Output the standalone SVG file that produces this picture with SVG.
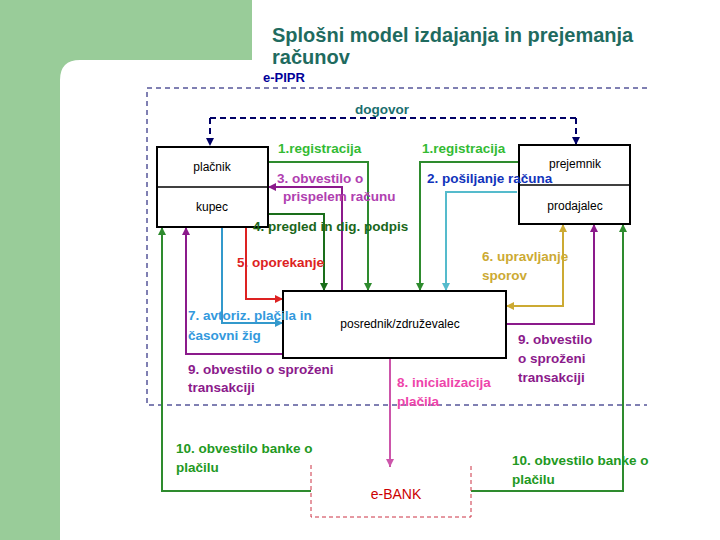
<svg xmlns="http://www.w3.org/2000/svg" width="720" height="540" viewBox="0 0 720 540">
<defs>
<style>
.box{fill:#fff;stroke:#000;stroke-width:2}
.bt{font-family:"Liberation Sans",Arial,sans-serif;font-size:12px;fill:#000;text-anchor:middle}
.lb{font-family:"Liberation Sans",Arial,sans-serif;font-size:13.5px;font-weight:bold}
.c{fill:none;stroke-width:2}
</style>
<marker id="aG" viewBox="0 0 8 8" refX="8" refY="4" markerWidth="8" markerHeight="8" markerUnits="userSpaceOnUse" orient="auto"><path d="M0,0L8,4L0,8z" fill="#2e8b2e"/></marker>
<marker id="aD" viewBox="0 0 8 8" refX="8" refY="4" markerWidth="8" markerHeight="8" markerUnits="userSpaceOnUse" orient="auto"><path d="M0,0L8,4L0,8z" fill="#1a6e1a"/></marker>
<marker id="aC" viewBox="0 0 8 8" refX="8" refY="4" markerWidth="8" markerHeight="8" markerUnits="userSpaceOnUse" orient="auto"><path d="M0,0L8,4L0,8z" fill="#55bbcc"/></marker>
<marker id="aP" viewBox="0 0 8 8" refX="8" refY="4" markerWidth="8" markerHeight="8" markerUnits="userSpaceOnUse" orient="auto"><path d="M0,0L8,4L0,8z" fill="#8b1a8b"/></marker>
<marker id="aR" viewBox="0 0 8 8" refX="8" refY="4" markerWidth="8" markerHeight="8" markerUnits="userSpaceOnUse" orient="auto"><path d="M0,0L8,4L0,8z" fill="#dd2222"/></marker>
<marker id="aB" viewBox="0 0 8 8" refX="8" refY="4" markerWidth="8" markerHeight="8" markerUnits="userSpaceOnUse" orient="auto"><path d="M0,0L8,4L0,8z" fill="#3399cc"/></marker>
<marker id="aY" viewBox="0 0 8 8" refX="8" refY="4" markerWidth="8" markerHeight="8" markerUnits="userSpaceOnUse" orient="auto-start-reverse"><path d="M0,0L8,4L0,8z" fill="#ccaa33"/></marker>
<marker id="aK" viewBox="0 0 8 8" refX="8" refY="4" markerWidth="8" markerHeight="8" markerUnits="userSpaceOnUse" orient="auto"><path d="M0,0L8,4L0,8z" fill="#cc55aa"/></marker>
<marker id="aN" viewBox="0 0 8 8" refX="8" refY="4" markerWidth="8" markerHeight="8" markerUnits="userSpaceOnUse" orient="auto"><path d="M0,0L8,4L0,8z" fill="#000066"/></marker>
</defs>

<g id="background">
<rect x="0" y="0" width="720" height="540" fill="#99cc99"/>
<path d="M252,0H720V540H60V80Q60,60 80,60H252z" fill="#fff"/>
</g>

<g id="title">
<text x="272" y="42" font-family="'Liberation Sans',Arial,sans-serif" font-size="20" font-weight="bold" fill="#1f6b5f">Splošni model izdajanja in prejemanja</text>
<text x="272" y="64" font-family="'Liberation Sans',Arial,sans-serif" font-size="20" font-weight="bold" fill="#1f6b5f">računov</text>
</g>

<g id="e-pipr">
<text x="263" y="82" font-family="'Liberation Sans',Arial,sans-serif" font-size="13" font-weight="bold" fill="#000099">e-PIPR</text>
<path d="M647,88H147V405H647" fill="none" stroke="#000066" stroke-width="1" stroke-dasharray="5,4"/>
</g>

<g id="connectors">
<path class="c" d="M210,118H576" stroke="#000066" stroke-dasharray="6,4"/>
<path class="c" d="M210,118V146" stroke="#000066" stroke-dasharray="6,4" marker-end="url(#aN)"/>
<path class="c" d="M576,118V145" stroke="#000066" stroke-dasharray="6,4" marker-end="url(#aN)"/>
<path class="c" d="M268,162H368V291" stroke="#2e8b2e" marker-end="url(#aG)"/>
<path class="c" d="M519,162H420V291" stroke="#2e8b2e" marker-end="url(#aG)"/>
<path class="c" d="M517,192H446V291" stroke="#55bbcc" marker-end="url(#aC)"/>
<path class="c" d="M342,291V187H268" stroke="#8b1a8b" marker-end="url(#aP)"/>
<path class="c" d="M268,214H324V291" stroke="#1a6e1a" marker-end="url(#aD)"/>
<path class="c" d="M246,227V299H283" stroke="#dd2222" marker-end="url(#aR)"/>
<path class="c" d="M222,227V323H283" stroke="#3399cc" marker-end="url(#aB)"/>
<path class="c" d="M283,354H186V227" stroke="#8b1a8b" marker-end="url(#aP)"/>
<path class="c" d="M311,491H162V227" stroke="#2e8b2e" marker-end="url(#aG)"/>
<path class="c" d="M390,358V467" stroke="#cc55aa" marker-end="url(#aK)"/>
<path class="c" d="M506,306H563V224" stroke="#ccaa33" marker-start="url(#aY)" marker-end="url(#aY)"/>
<path class="c" d="M506,324H594V224" stroke="#8b1a8b" marker-end="url(#aP)"/>
<path class="c" d="M471,491H623V224" stroke="#2e8b2e" stroke-width="2.5" marker-end="url(#aG)"/>
</g>

<g id="placnik">
<rect class="box" x="157" y="147" width="111" height="80"/>
<line x1="157" y1="187" x2="268" y2="187" stroke="#000" stroke-width="1.5"/>
<text class="bt" x="212" y="171">plačnik</text>
<text class="bt" x="212" y="211">kupec</text>
</g>

<g id="prejemnik">
<rect class="box" x="519" y="145" width="111" height="79"/>
<line x1="519" y1="185" x2="630" y2="185" stroke="#000" stroke-width="1.5"/>
<text class="bt" x="575" y="168">prejemnik</text>
<text class="bt" x="575" y="210">prodajalec</text>
</g>

<g id="posrednik">
<rect class="box" x="283" y="291" width="223" height="67"/>
<text class="bt" x="400" y="328">posrednik/združevalec</text>
</g>

<g id="ebank">
<path d="M311,465V517H471V463" fill="none" stroke="#cc3344" stroke-width="1" stroke-dasharray="4,3"/>
<text x="396" y="499" font-family="'Liberation Sans',Arial,sans-serif" font-size="14" fill="#cc0000" text-anchor="middle">e-BANK</text>
</g>

<g id="labels">
<text class="lb" x="355" y="114" fill="#1a6e6e">dogovor</text>
<text class="lb" x="278" y="153" fill="#33bb33">1.registracija</text>
<text class="lb" x="422" y="153" fill="#33bb33">1.registracija</text>
<text class="lb" x="277" y="183" fill="#b040b0">3. obvestilo o</text>
<text class="lb" x="283" y="201" fill="#b040b0">prispelem računu</text>
<text class="lb" x="427" y="183" fill="#1133bb">2. pošiljanje računa</text>
<text class="lb" x="253" y="231" fill="#1a661a">4. pregled in dig. podpis</text>
<text class="lb" x="237" y="267" fill="#dd2222">5. oporekanje</text>
<text class="lb" x="482" y="261" fill="#ccaa33">6. upravljanje</text>
<text class="lb" x="482" y="280" fill="#ccaa33">sporov</text>
<text class="lb" x="188" y="320" fill="#3399dd">7. avtoriz. plačila in</text>
<text class="lb" x="188" y="340" fill="#3399dd">časovni žig</text>
<text class="lb" x="188" y="374" fill="#8b1a8b">9. obvestilo o sproženi</text>
<text class="lb" x="188" y="392" fill="#8b1a8b">transakciji</text>
<text class="lb" x="397" y="387" fill="#ee44aa">8. inicializacija</text>
<text class="lb" x="397" y="406" fill="#ee44aa">plačila</text>
<text class="lb" x="518" y="344" fill="#8b1a8b">9. obvestilo</text>
<text class="lb" x="518" y="363" fill="#8b1a8b">o sproženi</text>
<text class="lb" x="518" y="382" fill="#8b1a8b">transakciji</text>
<text class="lb" x="176" y="453" fill="#229922">10. obvestilo banke o</text>
<text class="lb" x="176" y="472" fill="#229922">plačilu</text>
<text class="lb" x="512" y="465" fill="#229922">10. obvestilo banke o</text>
<text class="lb" x="512" y="484" fill="#229922">plačilu</text>
</g>
</svg>
